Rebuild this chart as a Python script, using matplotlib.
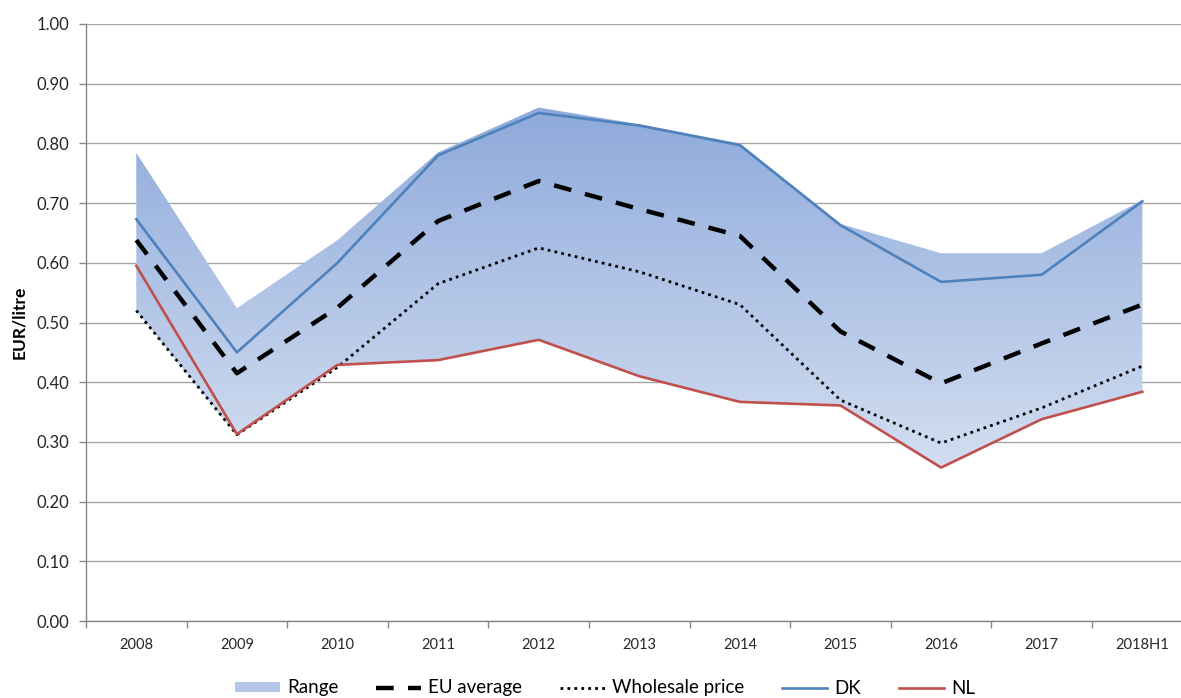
import matplotlib
matplotlib.use("Agg")
import matplotlib.pyplot as plt
import numpy as np
from matplotlib.lines import Line2D
from matplotlib.patches import Patch
from matplotlib.colors import LinearSegmentedColormap

plt.rcParams['font.family'] = ['Lato', 'DejaVu Sans']

categories = ['2008', '2009', '2010', '2011', '2012', '2013', '2014', '2015', '2016', '2017', '2018H1']
range_max = [0.784, 0.524, 0.638, 0.785, 0.860, 0.832, 0.800, 0.665, 0.616, 0.616, 0.705]
range_min = [0.520, 0.310, 0.428, 0.437, 0.470, 0.410, 0.367, 0.360, 0.256, 0.338, 0.384]
eu_average = [0.638, 0.415, 0.525, 0.670, 0.737, 0.690, 0.645, 0.485, 0.398, 0.465, 0.530]
wholesale = [0.520, 0.312, 0.425, 0.565, 0.625, 0.585, 0.530, 0.370, 0.298, 0.357, 0.427]
dk = [0.673, 0.450, 0.600, 0.780, 0.851, 0.830, 0.797, 0.663, 0.568, 0.580, 0.703]
nl = [0.595, 0.313, 0.429, 0.437, 0.471, 0.410, 0.367, 0.361, 0.257, 0.338, 0.384]

W, H = 1181, 698
fig = plt.figure(figsize=(W / 100, H / 100), dpi=100)
ax = fig.add_axes([86 / W, 77 / H, 1106.6 / W, 597 / H])

x = np.arange(len(categories))

# gradient filled range
poly = ax.fill_between(x, range_min, range_max, facecolor='none', edgecolor='none', zorder=1)
grad = np.linspace(0, 1, 256).reshape(-1, 1)
cmap = LinearSegmentedColormap.from_list('g', ['#d3def1', '#8eaadb'])
im = ax.imshow(grad, cmap=cmap, aspect='auto', origin='lower',
               extent=[x[0], x[-1], min(range_min), max(range_max)], zorder=1)
im.set_clip_path(poly.get_paths()[0], transform=ax.transData)

ax.plot(x, wholesale, color='black', lw=2.0, linestyle=(0, (1, 1.5)), zorder=3)
ax.plot(x, eu_average, color='black', lw=3.2, linestyle=(0, (4, 3.2)), zorder=4)
ax.plot(x, dk, color='#4f81bd', lw=1.9, zorder=5)
ax.plot(x, nl, color='#c0504d', lw=1.9, zorder=5)

ax.set_xlim(-0.5, len(categories) - 0.5)
ax.set_ylim(0, 1.0)
ax.set_yticks(np.arange(0, 1.01, 0.1))
ax.set_yticklabels([f'{v:.2f}' for v in np.arange(0, 1.01, 0.1)], fontsize=12, color='#262626')
ax.set_xticks(x)
ax.set_xticklabels(categories, fontsize=10.5, color='#262626')
ax.set_xticks(np.arange(-0.5, len(categories), 1), minor=True)
ax.tick_params(axis='x', which='major', length=0, pad=12)
ax.tick_params(axis='x', which='minor', length=5, color='#868686', width=1)
ax.tick_params(axis='y', length=5, color='#868686', width=1, pad=7)
ax.yaxis.grid(True, color='#a6a6a6', lw=1)
ax.set_axisbelow(True)
for s in ['top', 'right']:
    ax.spines[s].set_visible(False)
for s in ['left', 'bottom']:
    ax.spines[s].set_color('#868686')
    ax.spines[s].set_linewidth(1)

fig.text(19 / W, 1 - 322 / H, 'EUR/litre', rotation=90, fontsize=12.5, fontweight='bold',
         ha='center', va='center')

handles = [
    Patch(facecolor='#b4c6e7', edgecolor='none'),
    Line2D([], [], color='black', lw=3.2, linestyle=(0, (4, 3.2))),
    Line2D([], [], color='black', lw=2.0, linestyle=(0, (1, 1.5))),
    Line2D([], [], color='#4f81bd', lw=1.9),
    Line2D([], [], color='#c0504d', lw=1.9),
]
labels = ['Range', 'EU average', 'Wholesale price', 'DK', 'NL']
fig.legend(handles, labels, loc='center', bbox_to_anchor=(605 / W, 1 - 688 / H), ncol=5,
           frameon=False, fontsize=13.5, handlelength=2.4, columnspacing=2.0, handletextpad=0.4,
           handleheight=0.45, borderpad=0.0)

fig.savefig('out.png', dpi=100)
